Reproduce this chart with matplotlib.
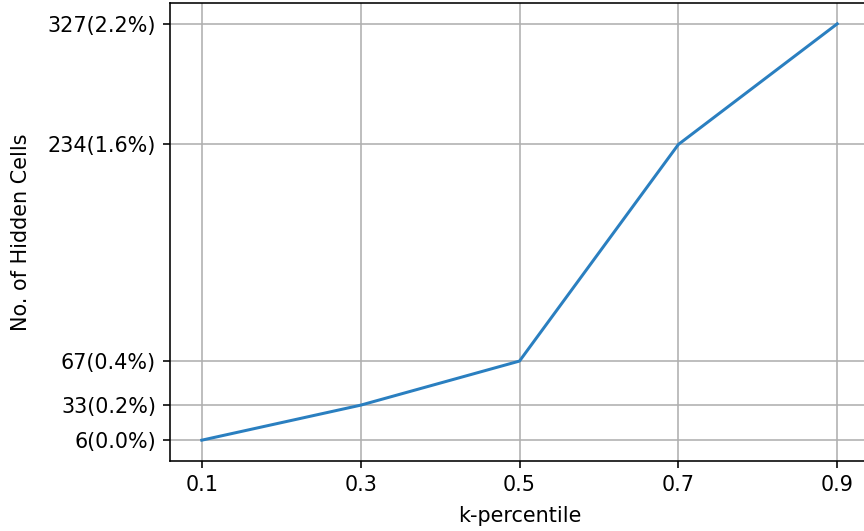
import matplotlib
matplotlib.use("Agg")
import matplotlib.pyplot as plt

# k-percentile vs. number of hidden cells
k_values = [0.1, 0.3, 0.5, 0.7, 0.9]
hidden_cells = [6, 33, 67, 234, 327]
cell_labels = ["6(0.0%)", "33(0.2%)", "67(0.4%)", "234(1.6%)", "327(2.2%)"]

plt.rcParams["font.size"] = 10.4

fig = plt.figure(figsize=(6, 3.6875), dpi=144)
ax = fig.add_axes([170 / 864, 70 / 531, 699 / 864, 458 / 531])

ax.plot(k_values, hidden_cells, color="#2a7fc0", lw=1.5)
ax.set_xticks(k_values)
ax.set_xticklabels([str(k) for k in k_values])
ax.set_yticks(hidden_cells)
ax.set_yticklabels(cell_labels)
ax.grid(True)

ax.set_xlabel("k-percentile", labelpad=5.5)
ax.set_ylabel("No. of Hidden Cells", labelpad=8)

plt.savefig("out.png", dpi=144)
plt.close()
